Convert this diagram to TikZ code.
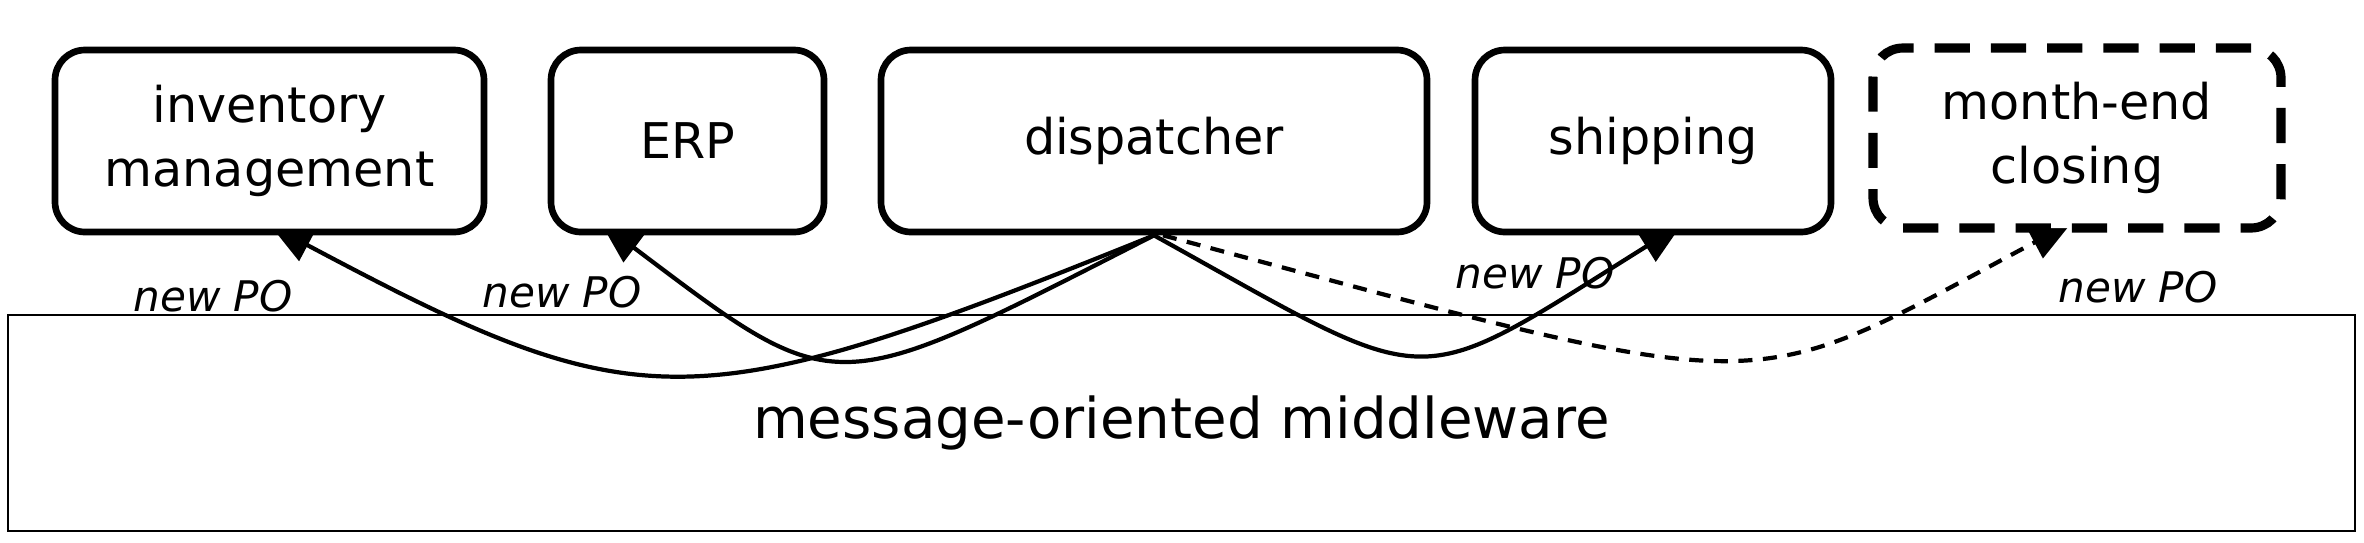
\documentclass[tikz,border=0pt]{standalone}
\usepackage{fontspec}
\setmainfont{DejaVu Sans}
\usetikzlibrary{arrows.meta, positioning, backgrounds}

\begin{document}
\begin{tikzpicture}[
    app/.style={draw, line width=1.9pt, rounded corners=0.3cm, fill=white, minimum height=1.82cm, align=center, font=\fontsize{14}{18}\selectfont},
    planned/.style={app, dash pattern=on 10pt off 6pt, line width=2.6pt},
    msg/.style={line width=1.2pt, -{Triangle[length=12pt,width=10pt]}, shorten >=-6pt},
    lbl/.style={font=\fontsize{12}{14}\selectfont\itshape}
]
    \useasboundingbox (0,0) rectangle (23.64,-5.42);
    % Applications
    \node[app, minimum width=4.29cm] (inv) at (2.695,-1.41) {inventory\\management};
    \node[app, minimum width=2.73cm] (erp) at (6.875,-1.41) {ERP};
    \node[app, minimum width=5.46cm] (disp) at (11.54,-1.41) {dispatcher};
    \node[app, minimum width=3.56cm] (ship) at (16.53,-1.41) {shipping};
    \node[planned, minimum width=4.08cm, minimum height=1.80cm] (month) at (20.77,-1.38) {month-end\\closing};
    % Middleware
    \node[draw, line width=0.8pt, minimum width=23.47cm, minimum height=2.16cm, font=\fontsize{16}{19}\selectfont] (mom) at (11.815,-4.23) {message-oriented middleware};
    % Messages from the dispatcher
    \begin{scope}[on background layer]
        \draw[msg] (disp.south) .. controls +(-158:4.99) and +(-28:3.98) .. ([xshift=0.195cm]inv.south);
        \draw[msg] (disp.south) .. controls +(-153:3.65) and +(-37:2.79) .. ([xshift=-0.7cm]erp.south);
        \draw[msg] (disp.south) .. controls +(-29:3.27) and +(-148:3.04) .. ([xshift=0.11cm]ship.south);
        \draw[msg, dash pattern=on 4pt off 3pt] ([xshift=0.09cm]disp.south) .. controls +(-15:6.49) and +(-152:3.58) .. ([xshift=-0.24cm]month.south);
    \end{scope}
    % Labels
    \node[lbl] (po1) at (2.13,-2.96) {new PO};
    \node[lbl] (po2) at (5.62,-2.92) {new PO};
    \node[lbl] (po3) at (15.35,-2.73) {new PO};
    \node[lbl] (po4) at (21.38,-2.87) {new PO};
\end{tikzpicture}
\end{document}
